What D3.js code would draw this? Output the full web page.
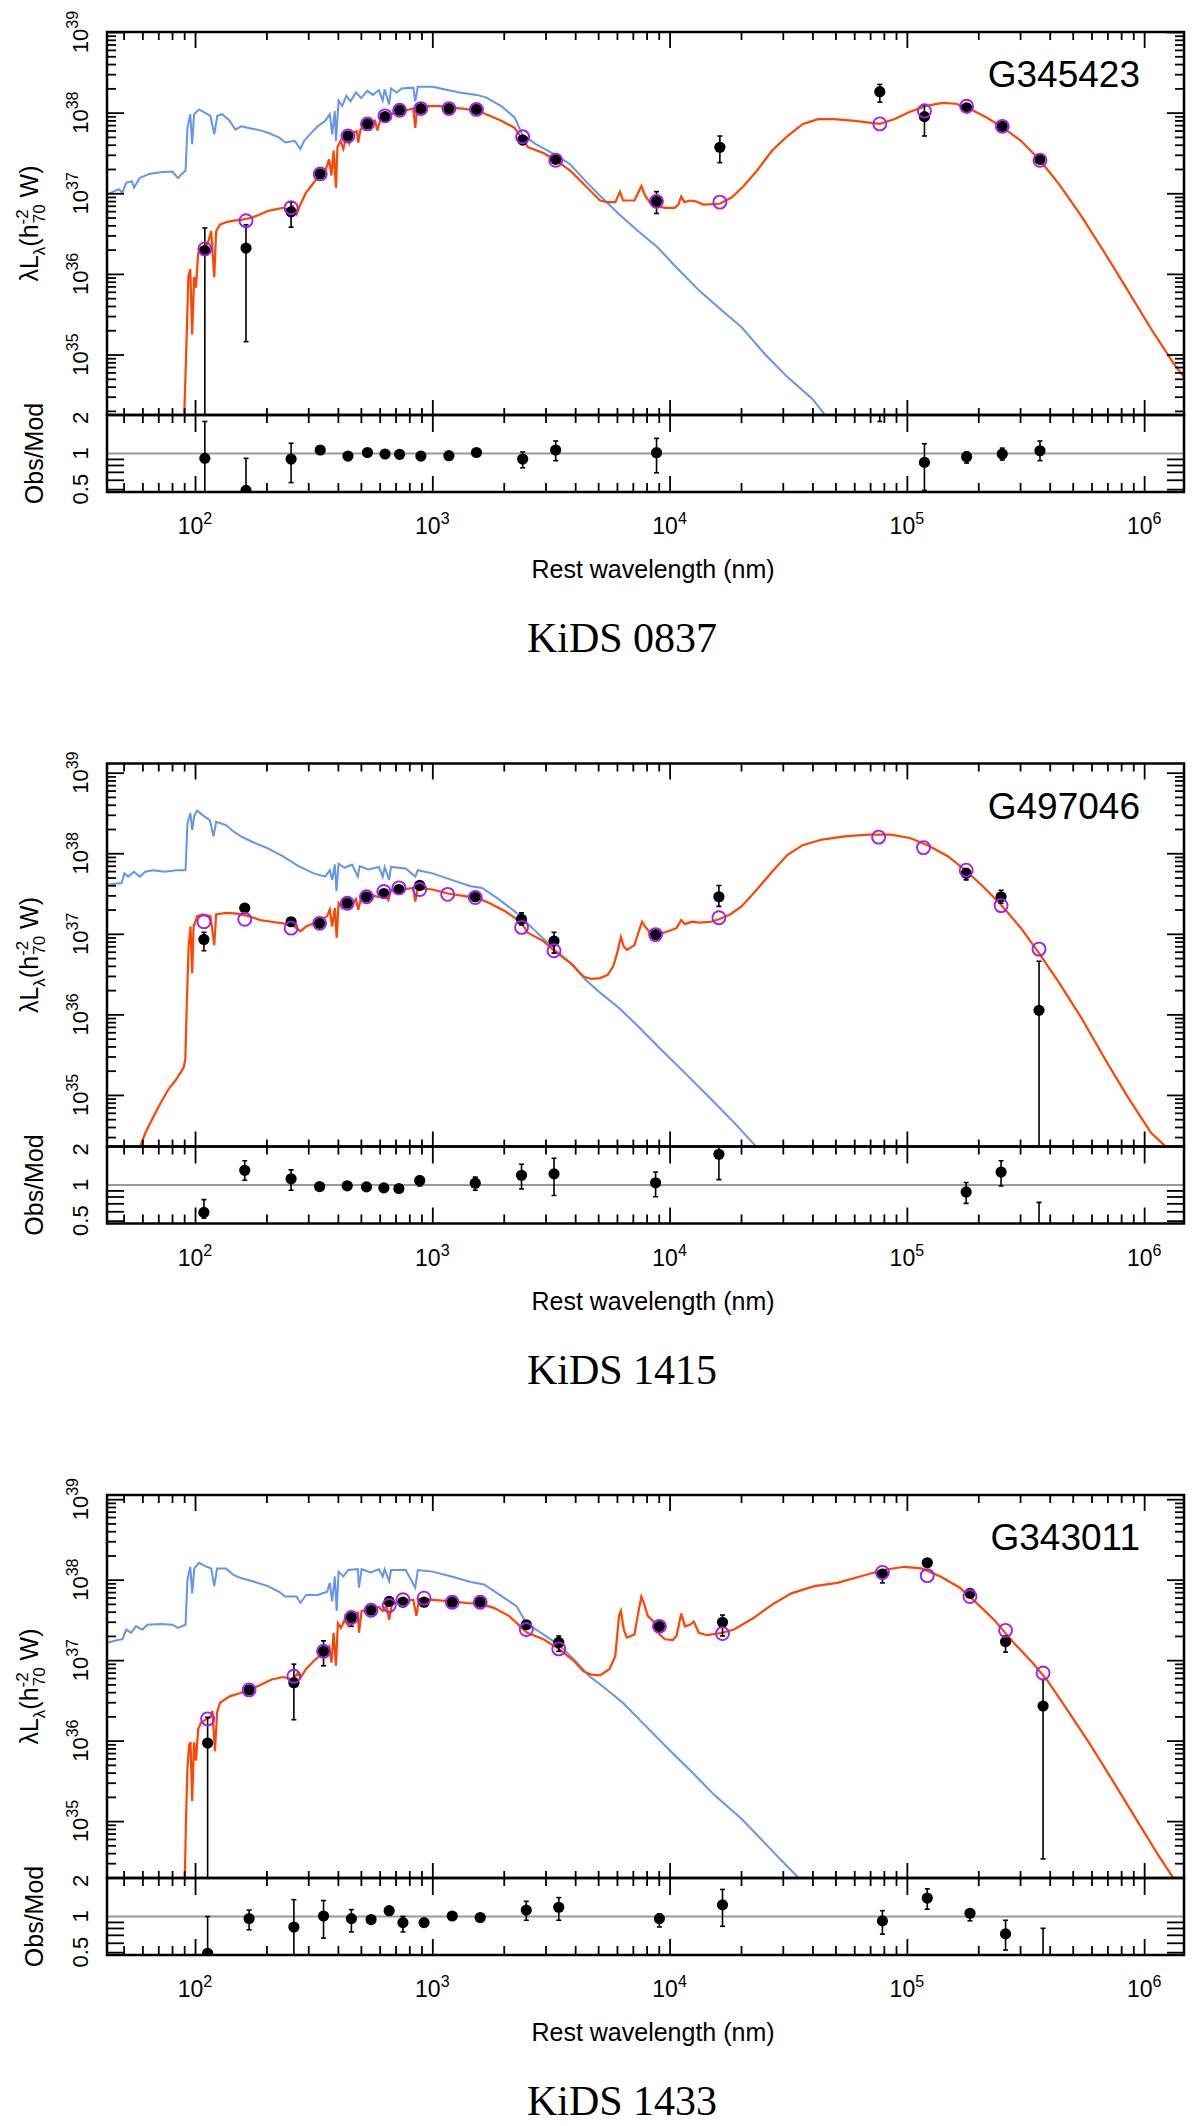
<!DOCTYPE html>
<html>
<head>
<meta charset="utf-8">
<script src="https://cdn.jsdelivr.net/npm/d3@7"></script>
<style>
  body { margin: 0; background: #fff; }
  svg { display: block; }
</style>
</head>
<body>
<div id="chart"></div>
<script>
// ---- data ----
// luminosities are log10(lambda L_lambda / h70^-2 W), curve wavelengths are log10(nm)
const panelNames = ["G345423", "G497046", "G343011"]
const captions = ["KiDS 0837", "KiDS 1415", "KiDS 1433"]
const yLogRange = [[34.25, 39.0], [34.36, 39.114], [34.293, 39.052]]
const ratioRange = [0.473, 2.114]

// panel 1
const bands1 = [110, 164, 254, 337, 441, 533, 632, 728, 895, 1175, 1535, 2404, 3311, 8810, 16290, 76910, 118600, 178600, 252400, 363900]
const obs1 = [36.29, 36.32, 36.77, 37.24, 37.71, 37.86, 37.95, 38.03, 38.05, 38.05, 38.04, 37.66, 37.42, 36.90, 37.57, 38.26, 37.95, 38.06, 37.83, 37.42]
const obsLo1 = [33, 35.16, 36.58, null, null, null, null, null, null, null, null, null, null, 36.75, 37.38, 38.13, 37.71, null, null, null]
const obsHi1 = [36.57, 36.61, 36.89, null, null, null, null, null, null, null, null, null, null, 37.02, 37.71, 38.35, 38.10, null, null, null]
const mod1 = [36.31, 36.66, 36.82, 37.24, 37.71, 37.86, 37.96, 38.03, 38.05, 38.05, 38.04, 37.70, 37.41, 36.90, 36.89, 37.86, 38.02, 38.08, 37.83, 37.41]
const ratio1 = [0.910, 0.488, 0.898, 1.07, 0.952, 1.02, 0.99, 0.984, 0.952, 0.958, 1.02, 0.898, 1.07, 1.016, null, 2.5, 0.841, 0.94, 0.99, 1.055]
const ratioLo1 = [0.3, 0.3, 0.568, null, null, null, null, null, null, null, null, 0.757, 0.87, 0.687, null, 1.864, 0.488, 0.83, 0.88, 0.87]
const ratioHi1 = [1.864, 0.91, 1.22, null, null, null, null, null, null, null, null, 1.03, 1.275, 1.343, null, 3.0, 1.209, 1.03, 1.11, 1.275]
const total1 = [[1.952,34.02],[1.960,34.76],[1.972,35.96],[1.980,36.06],[1.988,35.25],[1.996,35.96],[2.004,35.83],[2.013,36.25],[2.025,36.33],[2.041,36.31],[2.057,36.41],[2.068,36.53],[2.081,35.96],[2.089,36.53],[2.105,36.61],[2.130,36.64],[2.162,36.66],[2.194,36.67],[2.242,36.70],[2.275,36.74],[2.307,36.78],[2.339,36.80],[2.371,36.82],[2.396,36.79],[2.412,36.84],[2.428,36.74],[2.444,36.86],[2.468,37.01],[2.500,37.13],[2.525,37.24],[2.549,37.28],[2.565,37.42],[2.575,37.22],[2.584,37.53],[2.594,37.07],[2.600,37.57],[2.613,37.65],[2.625,37.55],[2.638,37.71],[2.650,37.62],[2.662,37.75],[2.681,37.77],[2.688,37.63],[2.697,37.79],[2.726,37.86],[2.759,37.90],[2.768,37.78],[2.783,37.93],[2.815,37.97],[2.847,38.00],[2.888,38.03],[2.920,38.05],[2.928,37.81],[2.936,38.05],[2.984,38.08],[3.033,38.08],[3.081,38.06],[3.130,38.05],[3.194,38.02],[3.242,37.96],[3.291,37.90],[3.347,37.81],[3.375,37.69],[3.404,37.57],[3.468,37.50],[3.520,37.41],[3.581,37.28],[3.646,37.09],[3.707,36.91],[3.739,36.89],[3.771,36.89],[3.791,37.02],[3.804,36.91],[3.852,36.91],[3.868,37.01],[3.881,37.09],[3.897,36.97],[3.916,36.89],[3.945,36.84],[3.981,36.82],[4.021,36.82],[4.037,36.86],[4.049,36.96],[4.062,36.89],[4.086,36.91],[4.110,36.90],[4.142,36.86],[4.212,36.87],[4.263,36.95],[4.312,37.09],[4.368,37.28],[4.432,37.53],[4.497,37.71],[4.562,37.86],[4.626,37.92],[4.691,37.92],[4.771,37.90],[4.886,37.86],[4.949,37.92],[5.013,38.01],[5.078,38.08],[5.150,38.12],[5.207,38.11],[5.263,38.05],[5.336,37.94],[5.402,37.82],[5.481,37.65],[5.561,37.41],[5.642,37.11],[5.739,36.70],[5.836,36.25],[5.932,35.79],[6.029,35.32],[6.126,34.88],[6.190,34.64]]
const stellar1 = [[1.634,36.99],[1.662,37.03],[1.678,37.05],[1.694,37.01],[1.710,37.13],[1.734,37.15],[1.743,37.07],[1.767,37.19],[1.807,37.24],[1.855,37.26],[1.904,37.27],[1.928,37.19],[1.952,37.26],[1.960,37.28],[1.968,37.81],[1.980,37.98],[1.988,37.61],[1.996,37.98],[2.017,38.04],[2.041,38.00],[2.065,37.96],[2.081,37.73],[2.094,37.96],[2.114,37.98],[2.146,37.90],[2.170,37.79],[2.194,37.83],[2.226,37.81],[2.275,37.78],[2.307,37.75],[2.355,37.69],[2.380,37.63],[2.420,37.65],[2.444,37.55],[2.460,37.65],[2.484,37.73],[2.517,37.83],[2.549,37.90],[2.568,37.98],[2.578,37.73],[2.589,38.02],[2.594,37.65],[2.605,38.15],[2.620,38.08],[2.638,38.21],[2.655,38.14],[2.678,38.25],[2.700,38.18],[2.726,38.27],[2.750,38.22],[2.775,38.28],[2.791,38.15],[2.799,38.29],[2.818,38.10],[2.826,38.30],[2.850,38.25],[2.871,38.30],[2.920,38.31],[2.928,38.14],[2.939,38.32],[3.001,38.32],[3.049,38.29],[3.114,38.25],[3.186,38.22],[3.226,38.19],[3.291,38.08],[3.347,37.94],[3.379,37.73],[3.436,37.61],[3.517,37.48],[3.581,37.36],[3.646,37.15],[3.707,36.97],[3.787,36.74],[3.868,36.53],[3.949,36.33],[4.029,36.08],[4.126,35.79],[4.223,35.54],[4.303,35.34],[4.400,35.01],[4.497,34.72],[4.602,34.45],[4.674,34.18]]

// panel 2
const bands2 = [109, 162, 254, 335, 438, 528, 625, 723, 885, 1161, 1517, 2377, 3258, 8730, 16140, 76030, 117500, 177800, 249500, 360600]
const obs2 = [36.93, 37.32, 37.15, 37.13, 37.38, 37.46, 37.50, 37.55, 37.60, null, 37.46, 37.18, 36.91, 36.99, 37.46, null, null, 37.75, 37.46, 36.05]
const obsLo2 = [36.79, null, null, null, null, null, null, null, null, null, null, 37.11, 36.76, null, 37.34, null, null, 37.67, 37.38, 33]
const obsHi2 = [37.02, null, null, null, null, null, null, null, null, null, null, 37.26, 37.02, null, 37.60, null, null, 37.81, 37.54, 36.66]
const mod2 = [37.15, 37.18, 37.07, 37.13, 37.38, 37.46, 37.525, 37.57, 37.55, 37.49, 37.45, 37.08, 36.79, 36.99, 37.20, 38.20, 38.07, 37.79, 37.35, 36.81]
const ratio2 = [0.587, 1.331, 1.128, 0.97, 0.984, 0.964, 0.946, 0.934, 1.09, null, 1.036, 1.209, 1.242, 1.043, 1.818, null, null, 0.874, 1.286, 0.17]
const ratioLo2 = [0.524, 1.098, 0.902, null, null, null, null, null, 0.98, null, 0.902, 0.924, 0.816, 0.795, 1.11, null, null, 0.699, 0.98, 0.1]
const ratioHi2 = [0.752, 1.601, 1.343, null, null, null, null, null, 1.187, null, 1.165, 1.499, 1.681, 1.286, 2.3, null, null, 1.05, 1.601, 0.713]
const total2 = [[1.750,34.25],[1.767,34.35],[1.791,34.53],[1.823,34.72],[1.855,34.90],[1.888,35.07],[1.920,35.19],[1.952,35.34],[1.959,35.44],[1.965,36.10],[1.973,36.84],[1.981,37.09],[1.988,36.51],[1.994,37.09],[2.009,37.22],[2.033,37.24],[2.065,37.22],[2.081,36.86],[2.089,37.24],[2.130,37.26],[2.178,37.25],[2.226,37.22],[2.275,37.17],[2.323,37.15],[2.371,37.13],[2.420,37.09],[2.444,37.03],[2.468,37.09],[2.517,37.15],[2.557,37.22],[2.568,37.30],[2.578,37.09],[2.589,37.32],[2.597,36.95],[2.605,37.38],[2.620,37.32],[2.638,37.40],[2.655,37.34],[2.678,37.43],[2.688,37.30],[2.702,37.46],[2.743,37.48],[2.771,37.46],[2.791,37.51],[2.815,37.42],[2.826,37.54],[2.871,37.55],[2.920,37.57],[2.928,37.40],[2.939,37.57],[3.001,37.55],[3.065,37.50],[3.130,37.47],[3.194,37.44],[3.242,37.38],[3.307,37.28],[3.371,37.15],[3.404,37.01],[3.468,36.91],[3.513,36.79],[3.581,36.64],[3.637,36.47],[3.670,36.44],[3.707,36.45],[3.739,36.49],[3.763,36.60],[3.779,36.76],[3.795,36.96],[3.807,36.84],[3.820,36.80],[3.852,36.86],[3.868,37.01],[3.884,37.15],[3.897,37.09],[3.916,37.02],[3.941,36.99],[3.981,37.02],[4.029,37.07],[4.049,37.17],[4.065,37.12],[4.094,37.15],[4.126,37.14],[4.174,37.15],[4.208,37.18],[4.255,37.24],[4.303,37.34],[4.368,37.55],[4.432,37.77],[4.497,37.98],[4.561,38.10],[4.642,38.17],[4.739,38.21],[4.836,38.23],[4.932,38.23],[5.013,38.19],[5.094,38.09],[5.174,37.96],[5.250,37.78],[5.320,37.59],[5.397,37.36],[5.481,37.07],[5.557,36.76],[5.642,36.39],[5.739,35.94],[5.836,35.44],[5.932,34.97],[6.029,34.53],[6.094,34.35],[6.120,34.22]]
const stellar2 = [[1.634,37.61],[1.662,37.62],[1.691,37.63],[1.702,37.75],[1.718,37.71],[1.743,37.77],[1.767,37.71],[1.791,37.77],[1.823,37.79],[1.872,37.77],[1.920,37.79],[1.960,37.79],[1.968,38.37],[1.980,38.50],[1.988,38.29],[1.997,38.47],[2.009,38.53],[2.033,38.47],[2.062,38.41],[2.078,38.21],[2.089,38.39],[2.130,38.35],[2.162,38.27],[2.194,38.21],[2.242,38.14],[2.307,38.06],[2.371,37.96],[2.436,37.84],[2.500,37.75],[2.549,37.71],[2.568,37.79],[2.578,37.67],[2.589,37.86],[2.596,37.53],[2.605,37.87],[2.630,37.82],[2.662,37.86],[2.686,37.71],[2.694,37.84],[2.730,37.80],[2.775,37.83],[2.791,37.71],[2.799,37.83],[2.818,37.67],[2.826,37.83],[2.888,37.81],[2.928,37.71],[2.939,37.79],[3.001,37.75],[3.081,37.67],[3.162,37.59],[3.210,37.57],[3.275,37.44],[3.355,37.26],[3.436,37.03],[3.517,36.80],[3.597,36.60],[3.646,36.43],[3.707,36.27],[3.787,36.08],[3.868,35.85],[3.965,35.56],[4.062,35.28],[4.174,34.95],[4.271,34.66],[4.368,34.35],[4.400,34.25]]

// panel 3
const bands3 = [113, 169, 261, 348, 456, 552, 658, 752, 923, 1213, 1592, 2489, 3412, 9057, 16710, 78890, 121900, 184500, 260600, 375000]
const obs3 = [35.97, 36.63, 36.72, 37.11, 37.53, 37.62, 37.73, 37.72, 37.72, 37.72, 37.72, 37.44, 37.22, 37.42, 37.47, 38.07, 38.21, 37.83, 37.23, 36.43]
const obsLo3 = [33, null, 36.26, 36.93, 37.42, null, null, null, null, null, null, null, 37.11, null, 37.30, 37.96, null, null, 37.10, 34.53]
const obsHi3 = [36.29, null, 36.95, 37.24, 37.60, null, null, null, null, null, null, null, 37.30, null, 37.56, 38.10, null, null, 37.30, 36.76]
const mod3 = [36.27, 36.63, 36.80, 37.11, 37.53, 37.62, 37.68, 37.75, 37.77, 37.72, 37.72, 37.38, 37.14, 37.42, 37.33, 38.09, 38.05, 37.79, 37.37, 36.84]
const ratio3 = [0.489, 0.96, 0.814, 1.01, 0.96, 0.942, 1.12, 0.888, 0.888, 1.01, 0.98, 1.132, 1.197, 0.96, 1.253, 0.918, 1.432, 1.065, 0.713, 0.39]
const ratioLo3 = [0.3, 0.773, 0.4, 0.657, 0.741, null, null, 0.741, null, null, null, 0.929, 0.929, 0.816, 0.827, 0.710, 1.153, 0.92, 0.521, 0.2]
const ratioHi3 = [1.0, 1.132, 1.387, 1.364, 1.143, null, null, 1.0, null, null, null, 1.343, 1.443, 1.055, 1.692, 1.12, 1.715, 1.143, 0.929, 0.795]
const total3 = [[1.950,34.0],[1.957,34.29],[1.962,35.03],[1.968,35.65],[1.975,35.94],[1.981,35.98],[1.988,35.25],[1.996,35.98],[2.004,35.75],[2.013,36.14],[2.025,36.22],[2.049,36.27],[2.065,36.29],[2.073,36.37],[2.084,35.87],[2.093,36.35],[2.105,36.47],[2.146,36.55],[2.178,36.58],[2.228,36.63],[2.275,36.69],[2.323,36.76],[2.371,36.79],[2.412,36.76],[2.433,36.84],[2.444,36.78],[2.468,36.89],[2.500,36.99],[2.541,37.09],[2.565,37.17],[2.575,36.97],[2.584,37.34],[2.594,36.93],[2.602,37.46],[2.615,37.40],[2.630,37.50],[2.645,37.43],[2.659,37.55],[2.686,37.59],[2.691,37.34],[2.702,37.61],[2.742,37.63],[2.775,37.66],[2.791,37.61],[2.807,37.68],[2.818,37.50],[2.831,37.71],[2.876,37.73],[2.920,37.75],[2.933,37.55],[2.944,37.76],[3.001,37.75],[3.081,37.73],[3.146,37.71],[3.202,37.70],[3.259,37.65],[3.323,37.55],[3.371,37.42],[3.400,37.34],[3.468,37.26],[3.533,37.14],[3.597,36.99],[3.637,36.86],[3.670,36.82],[3.707,36.81],[3.747,36.89],[3.771,37.05],[3.787,37.55],[3.795,37.61],[3.807,37.38],[3.820,37.28],[3.852,37.32],[3.868,37.59],[3.881,37.79],[3.892,37.71],[3.908,37.55],[3.932,37.48],[3.957,37.32],[3.981,37.26],[4.013,37.25],[4.029,37.30],[4.049,37.58],[4.065,37.42],[4.086,37.44],[4.102,37.48],[4.123,37.34],[4.158,37.31],[4.223,37.34],[4.271,37.38],[4.352,37.52],[4.432,37.69],[4.513,37.83],[4.610,37.92],[4.707,37.96],[4.803,38.04],[4.900,38.12],[4.989,38.16],[5.061,38.14],[5.142,38.04],[5.223,37.90],[5.287,37.73],[5.368,37.50],[5.449,37.22],[5.529,36.97],[5.594,36.74],[5.674,36.39],[5.771,35.96],[5.868,35.50],[5.965,35.03],[6.061,34.57],[6.126,34.28]]
const stellar3 = [[1.634,37.22],[1.662,37.24],[1.694,37.26],[1.710,37.38],[1.730,37.34],[1.751,37.42],[1.778,37.38],[1.799,37.44],[1.855,37.45],[1.904,37.44],[1.928,37.40],[1.960,37.44],[1.968,38.00],[1.980,38.16],[1.988,37.83],[1.997,38.14],[2.017,38.21],[2.049,38.16],[2.068,38.14],[2.081,37.92],[2.093,38.14],[2.130,38.14],[2.162,38.06],[2.194,38.02],[2.242,37.98],[2.307,37.92],[2.355,37.85],[2.380,37.79],[2.428,37.79],[2.444,37.71],[2.468,37.81],[2.517,37.81],[2.557,37.85],[2.568,37.96],[2.578,37.73],[2.589,38.04],[2.597,37.61],[2.605,38.10],[2.625,38.04],[2.646,38.12],[2.686,38.13],[2.691,37.90],[2.702,38.13],[2.740,38.09],[2.775,38.13],[2.791,38.04],[2.799,38.13],[2.818,37.98],[2.826,38.12],[2.888,38.12],[2.928,37.90],[2.939,38.12],[3.001,38.10],[3.081,38.04],[3.162,37.97],[3.218,37.94],[3.275,37.83],[3.355,37.67],[3.396,37.46],[3.468,37.32],[3.533,37.19],[3.597,37.01],[3.662,36.80],[3.707,36.70],[3.803,36.47],[3.900,36.18],[3.997,35.89],[4.094,35.61],[4.190,35.32],[4.303,35.03],[4.384,34.78],[4.465,34.53],[4.545,34.29],[4.560,34.22]]

const ratioLabels = [0.5, 1, 2]
const ratioTicks = [0.5, 0.6, 0.7, 0.8, 0.9]

const panels = [
  { name: panelNames[0], caption: captions[0], yr: yLogRange[0], bands: bands1, obs: obs1, obsLo: obsLo1, obsHi: obsHi1, mod: mod1, ratio: ratio1, ratioLo: ratioLo1, ratioHi: ratioHi1, total: total1, stellar: stellar1 },
  { name: panelNames[1], caption: captions[1], yr: yLogRange[1], bands: bands2, obs: obs2, obsLo: obsLo2, obsHi: obsHi2, mod: mod2, ratio: ratio2, ratioLo: ratioLo2, ratioHi: ratioHi2, total: total2, stellar: stellar2 },
  { name: panelNames[2], caption: captions[2], yr: yLogRange[2], bands: bands3, obs: obs3, obsLo: obsLo3, obsHi: obsHi3, mod: mod3, ratio: ratio3, ratioLo: ratioLo3, ratioHi: ratioHi3, total: total3, stellar: stellar3 }
]

// ---- layout ----
const width = 1200
const height = 2126
const left = 107
const right = 1184
const mainH = 383
const ratioH = 77
const panelTop = [32, 763.5, 1495]
const sans = "'Liberation Sans', Arial, Helvetica, sans-serif"
const serif = "'Liberation Serif', 'Times New Roman', Times, serif"

const orange = "#ff4500"
const blue = "#6495ed"
const purple = "#a020f0"

const svg = d3.select("#chart")
  .append("svg")
  .attr("width", width)
  .attr("height", height)
  .style("background", "#fff")

const x = d3.scaleLog().domain([10 ** 1.629, 10 ** 6.168]).range([left, right])
const xMajor = [1e2, 1e3, 1e4, 1e5, 1e6]
const xMinor = []
for (let e = 1; e <= 6; e++) {
  for (let k = 2; k <= 9; k++) {
    const v = k * 10 ** e
    if (v > x.domain()[0] && v < x.domain()[1]) xMinor.push(v)
  }
}

// ticks drawn inward with d3 axes
function tickAxis(g, axis, values, len) {
  g.call(axis.tickValues(values).tickSizeInner(-len).tickSizeOuter(0).tickFormat(""))
  g.select(".domain").remove()
  g.selectAll(".tick line").attr("stroke", "#000").attr("stroke-width", 1.8)
}

function supLabel(sel, base, sup, size, supSize, raise) {
  sel.append("tspan").attr("font-size", size).text(base)
  sel.append("tspan").attr("font-size", supSize).attr("dy", -raise).text(sup)
}

panels.forEach((p, i) => {
  const g = svg.append("g").attr("transform", `translate(0,${panelTop[i]})`)

  const y = d3.scaleLog().domain([10 ** p.yr[0], 10 ** p.yr[1]]).range([mainH, 0])
  const yr = d3.scaleLog().domain(ratioRange).range([mainH + ratioH, mainH])

  const clipMain = `clipMain${i}`
  const clipRatio = `clipRatio${i}`
  g.append("clipPath").attr("id", clipMain)
    .append("rect").attr("x", left).attr("y", 0).attr("width", right - left).attr("height", mainH)
  g.append("clipPath").attr("id", clipRatio)
    .append("rect").attr("x", left).attr("y", mainH).attr("width", right - left).attr("height", ratioH)

  // ---- main panel ----
  const main = g.append("g").attr("clip-path", `url(#${clipMain})`)
  const line = d3.line().x(d => x(10 ** d[0])).y(d => y(10 ** d[1]))

  main.append("path").datum(p.stellar)
    .attr("d", line).attr("fill", "none").attr("stroke", blue).attr("stroke-width", 2)
  main.append("path").datum(p.total)
    .attr("d", line).attr("fill", "none").attr("stroke", orange).attr("stroke-width", 2.2)

  const pts = p.bands.map((w, j) => ({ w, o: p.obs[j], lo: p.obsLo[j], hi: p.obsHi[j], m: p.mod[j] }))

  const errs = main.selectAll(".err").data(pts.filter(d => d.o !== null && d.lo !== null)).enter()
    .append("g").attr("class", "err")
  errs.append("line")
    .attr("x1", d => x(d.w)).attr("x2", d => x(d.w))
    .attr("y1", d => y(10 ** d.lo)).attr("y2", d => y(10 ** d.hi))
    .attr("stroke", "#000").attr("stroke-width", 1.6)
  errs.append("line")
    .attr("x1", d => x(d.w) - 2.5).attr("x2", d => x(d.w) + 2.5)
    .attr("y1", d => y(10 ** d.lo)).attr("y2", d => y(10 ** d.lo))
    .attr("stroke", "#000").attr("stroke-width", 1.6)
  errs.append("line")
    .attr("x1", d => x(d.w) - 2.5).attr("x2", d => x(d.w) + 2.5)
    .attr("y1", d => y(10 ** d.hi)).attr("y2", d => y(10 ** d.hi))
    .attr("stroke", "#000").attr("stroke-width", 1.6)

  main.selectAll(".obs").data(pts.filter(d => d.o !== null)).enter()
    .append("circle").attr("class", "obs")
    .attr("cx", d => x(d.w)).attr("cy", d => y(10 ** d.o)).attr("r", 5.6)
    .attr("fill", "#000")

  main.selectAll(".mod").data(pts.filter(d => d.m !== null)).enter()
    .append("circle").attr("class", "mod")
    .attr("cx", d => x(d.w)).attr("cy", d => y(10 ** d.m)).attr("r", 6.5)
    .attr("fill", "none").attr("stroke", purple).attr("stroke-width", 1.9)

  // ---- ratio panel ----
  const rat = g.append("g").attr("clip-path", `url(#${clipRatio})`)
  rat.append("line")
    .attr("x1", left).attr("x2", right).attr("y1", yr(1)).attr("y2", yr(1))
    .attr("stroke", "#999").attr("stroke-width", 2.2)

  const rpts = p.bands.map((w, j) => ({ w, r: p.ratio[j], lo: p.ratioLo[j], hi: p.ratioHi[j] }))
    .filter(d => d.r !== null)
  const rerr = rat.selectAll(".rerr").data(rpts.filter(d => d.lo !== null)).enter()
    .append("g").attr("class", "rerr")
  rerr.append("line")
    .attr("x1", d => x(d.w)).attr("x2", d => x(d.w))
    .attr("y1", d => yr(d.lo)).attr("y2", d => yr(d.hi))
    .attr("stroke", "#000").attr("stroke-width", 1.6)
  rerr.append("line")
    .attr("x1", d => x(d.w) - 2.5).attr("x2", d => x(d.w) + 2.5)
    .attr("y1", d => yr(d.lo)).attr("y2", d => yr(d.lo))
    .attr("stroke", "#000").attr("stroke-width", 1.6)
  rerr.append("line")
    .attr("x1", d => x(d.w) - 2.5).attr("x2", d => x(d.w) + 2.5)
    .attr("y1", d => yr(d.hi)).attr("y2", d => yr(d.hi))
    .attr("stroke", "#000").attr("stroke-width", 1.6)
  rat.selectAll(".rdot").data(rpts).enter()
    .append("circle").attr("class", "rdot")
    .attr("cx", d => x(d.w)).attr("cy", d => yr(d.r)).attr("r", 5.6)
    .attr("fill", "#000")

  // ---- frames ----
  g.append("rect").attr("x", left).attr("y", 0).attr("width", right - left).attr("height", mainH)
    .attr("fill", "none").attr("stroke", "#000").attr("stroke-width", 2.5)
  g.append("rect").attr("x", left).attr("y", mainH).attr("width", right - left).attr("height", ratioH)
    .attr("fill", "none").attr("stroke", "#000").attr("stroke-width", 2.5)

  // ---- ticks ----
  const yMajor = d3.range(Math.ceil(p.yr[0]), Math.floor(p.yr[1] + 1e-9) + 1).map(e => 10 ** e)
  const yMinor = []
  for (let e = Math.floor(p.yr[0]); e <= Math.ceil(p.yr[1]); e++) {
    for (let k = 2; k <= 9; k++) {
      const v = k * 10 ** e
      if (Math.log10(v) > p.yr[0] && Math.log10(v) < p.yr[1]) yMinor.push(v)
    }
  }

  const tTop = g.append("g")
  tickAxis(tTop.append("g"), d3.axisTop(x), xMinor, 8)
  tickAxis(tTop.append("g"), d3.axisTop(x), xMajor, 16)
  const tMainBot = g.append("g").attr("transform", `translate(0,${mainH})`)
  tickAxis(tMainBot.append("g"), d3.axisBottom(x), xMinor, 7)
  tickAxis(tMainBot.append("g"), d3.axisBottom(x), xMajor, 15)
  tickAxis(tMainBot.append("g"), d3.axisTop(x), xMinor, 8)
  tickAxis(tMainBot.append("g"), d3.axisTop(x), xMajor, 17)
  const tRatBot = g.append("g").attr("transform", `translate(0,${mainH + ratioH})`)
  tickAxis(tRatBot.append("g"), d3.axisBottom(x), xMinor, 9)
  tickAxis(tRatBot.append("g"), d3.axisBottom(x), xMajor, 16)

  const tLeft = g.append("g").attr("transform", `translate(${left},0)`)
  tickAxis(tLeft.append("g"), d3.axisLeft(y), yMinor, 9)
  tickAxis(tLeft.append("g"), d3.axisLeft(y), yMajor, 17)
  tickAxis(tLeft.append("g"), d3.axisLeft(yr), ratioTicks, 17)
  const tRight = g.append("g").attr("transform", `translate(${right},0)`)
  tickAxis(tRight.append("g"), d3.axisRight(y), yMinor, 9)
  tickAxis(tRight.append("g"), d3.axisRight(y), yMajor, 17)
  tickAxis(tRight.append("g"), d3.axisRight(yr), ratioTicks, 17)

  // ---- tick labels ----
  xMajor.forEach(v => {
    const t = g.append("text")
      .attr("x", x(v)).attr("y", mainH + ratioH + 42)
      .attr("text-anchor", "middle").attr("font-family", sans).attr("fill", "#000")
    supLabel(t, "10", String(Math.round(Math.log10(v))), 23, 16, 10)
  })
  yMajor.forEach(v => {
    const t = g.append("text")
      .attr("transform", `translate(88,${y(v)}) rotate(-90)`)
      .attr("text-anchor", "middle").attr("font-family", sans).attr("fill", "#000")
    supLabel(t, "10", String(Math.round(Math.log10(v))), 22, 16, 10)
  })
  ratioLabels.forEach(v => {
    g.append("text")
      .attr("transform", `translate(88,${yr(v)}) rotate(-90)`)
      .attr("text-anchor", "middle").attr("font-family", sans).attr("font-size", 22)
      .attr("fill", "#000").text(String(v))
  })

  // ---- axis titles ----
  const yt = g.append("text")
    .attr("transform", `translate(38,${mainH / 2}) rotate(-90)`)
    .attr("text-anchor", "middle").attr("font-family", sans).attr("font-size", 25).attr("fill", "#000")
  yt.append("tspan").text("λL")
  yt.append("tspan").attr("font-size", 17).attr("dy", 7).text("λ")
  yt.append("tspan").attr("dy", -7).text("(h")
  yt.append("tspan").attr("font-size", 17).attr("dy", -10).text("-2")
  yt.append("tspan").attr("font-size", 17).attr("dx", -14).attr("dy", 17).text("70")
  yt.append("tspan").attr("dy", -7).text(" W)")

  g.append("text")
    .attr("transform", `translate(43,${mainH + ratioH / 2}) rotate(-90)`)
    .attr("text-anchor", "middle").attr("font-family", sans).attr("font-size", 25)
    .attr("fill", "#000").text("Obs/Mod")

  g.append("text")
    .attr("x", 653).attr("y", mainH + ratioH + 86)
    .attr("text-anchor", "middle").attr("font-family", sans).attr("font-size", 25)
    .attr("fill", "#000").text("Rest wavelength (nm)")

  g.append("text")
    .attr("x", 1140).attr("y", 55)
    .attr("text-anchor", "end").attr("font-family", sans).attr("font-size", 37)
    .attr("fill", "#000").text(p.name)

  g.append("text")
    .attr("x", 622).attr("y", 620)
    .attr("text-anchor", "middle").attr("font-family", serif).attr("font-size", 42)
    .attr("fill", "#000").text(p.caption)
})
</script>
</body>
</html>
